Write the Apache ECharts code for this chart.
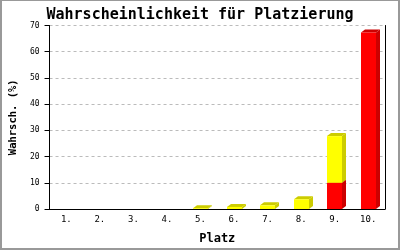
<!DOCTYPE html>
<html><head><meta charset="utf-8">
<script src="https://cdn.jsdelivr.net/npm/echarts@6/dist/echarts.min.js"></script>
<style>html,body{margin:0;padding:0;background:#fff}#c{width:400px;height:250px}</style>
</head><body><div id="c"></div>
<script>
const categories = ['1.','2.','3.','4.','5.','6.','7.','8.','9.','10.'];
const redValues = [0,0,0,0,0,0,0,0,10,67.3];
const yellowValues = [0,0,0,0,0.3,0.8,1.4,3.7,17.8,0];
const yTicks = [0,10,20,30,40,50,60,70];

const mono = 'DejaVu Sans Mono';
const chart = echarts.init(document.getElementById('c'), null, {renderer:'canvas'});

const redData = redValues.map((v,i)=>[i,0,v]);
const yellowData = yellowValues.map((v,i)=>[i,redValues[i],redValues[i]+v]);

function make3D(front, dark){
  return function(params, api){
    const i = api.value(0), b = api.value(1), t = api.value(2);
    if (t - b <= 0) return null;
    const p0 = api.coord([i,b]);
    const p1 = api.coord([i,t]);
    const w = api.size([1,0])[0]*0.44;
    const dx = 4, dy = 3;
    const x0 = Math.round(p0[0]-w/2), x1 = x0+Math.round(w);
    const yb = p0[1], yt = p1[1];
    return {type:'group', children:[
      {type:'polygon', shape:{points:[[x1,yb],[x1+dx,yb-dy],[x1+dx,yt-dy],[x1,yt]]}, style:{fill:dark}},
      {type:'polygon', shape:{points:[[x0,yt],[x1,yt],[x1+dx,yt-dy],[x0+dx,yt-dy]]}, style:{fill:dark}},
      {type:'rect', shape:{x:x0,y:yt,width:x1-x0,height:yb-yt}, style:{fill:front}}
    ]};
  };
}

chart.setOption({
  animation:false,
  backgroundColor:'#fff',
  title:{text:'Wahrscheinlichkeit für Platzierung', left:'center', top:3,
    textStyle:{fontFamily:mono, fontWeight:'bold', fontSize:15, color:'#000'}},
  grid:{left:43, right:15, top:25.5, bottom:36, containLabel:false},
  xAxis:{type:'category', data:categories, boundaryGap:true,
    name:'Platz', nameLocation:'middle', nameGap:24,
    nameTextStyle:{fontFamily:mono, fontWeight:'bold', fontSize:12, color:'#000'},
    axisLine:{lineStyle:{color:'#000', width:1}}, axisTick:{show:false},
    axisLabel:{fontFamily:mono, fontSize:9, color:'#000', margin:6},
    splitLine:{show:false}},
  yAxis:[{type:'value', min:yTicks[0], max:yTicks[yTicks.length-1], interval:10,
    name:'Wahrsch. (%)', nameLocation:'middle', nameGap:30,
    nameTextStyle:{fontFamily:mono, fontWeight:'bold', fontSize:10.5, color:'#000'},
    axisLine:{show:true, lineStyle:{color:'#000'}},
    axisTick:{show:true, length:5, lineStyle:{color:'#000'}},
    axisLabel:{fontFamily:mono, fontSize:8, color:'#000', margin:10},
    splitLine:{show:true, lineStyle:{color:'#bbb', type:[3,3], width:1}}},
   {type:'value', min:0, max:70, interval:10, position:'right',
    axisLine:{show:true, lineStyle:{color:'#000'}}, axisTick:{show:false},
    axisLabel:{show:false}, splitLine:{show:false}}],
  series:[
    {type:'custom', renderItem:make3D('#ff0000','#cc0000'), data:redData, encode:{x:0,y:2}, z:2},
    {type:'custom', renderItem:make3D('#ffff00','#cccc00'), data:yellowData, encode:{x:0,y:2}, z:3}
  ],
  graphic:[
    {type:'rect', shape:{x:0,y:0,width:2,height:250}, style:{fill:'#999'}, silent:true},
    {type:'rect', shape:{x:0,y:0,width:400,height:1}, style:{fill:'#999'}, silent:true},
    {type:'rect', shape:{x:398,y:0,width:2,height:250}, style:{fill:'#999'}, silent:true},
    {type:'rect', shape:{x:0,y:248,width:400,height:2}, style:{fill:'#999'}, silent:true}
  ]
});
</script></body></html>
